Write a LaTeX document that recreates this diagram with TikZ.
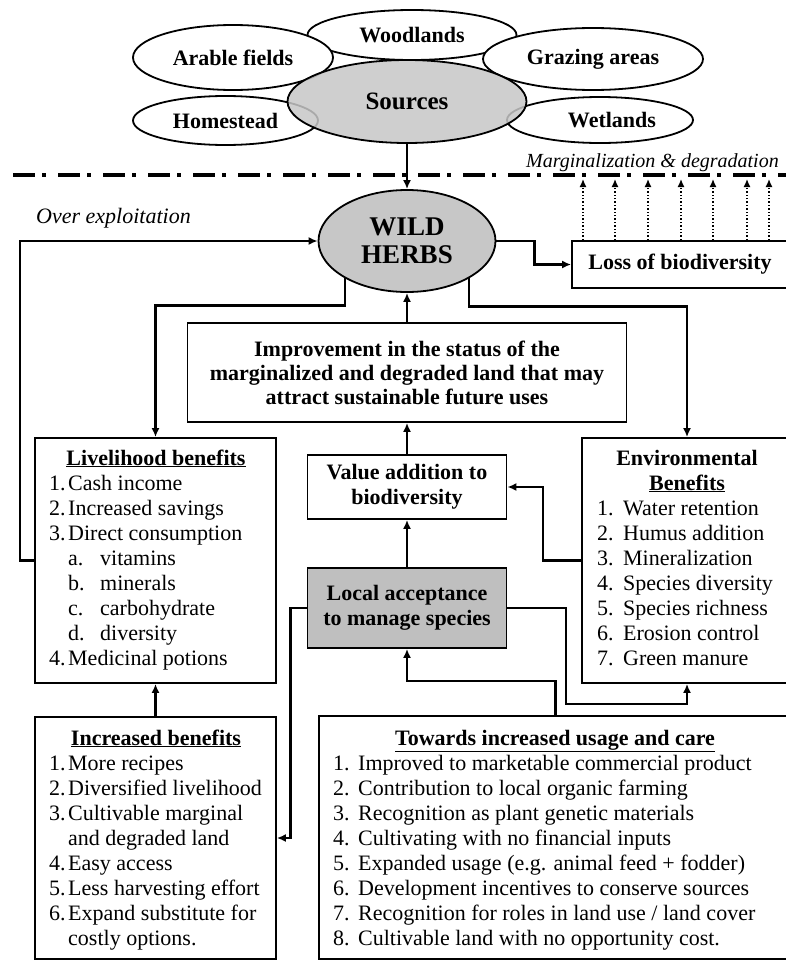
\documentclass[tikz,border=0pt]{standalone}
\usepackage{fontspec}
\setmainfont{Liberation Serif}
\usetikzlibrary{arrows.meta,shapes.geometric,calc}
\newcommand\nbx[1]{\makebox[19pt][l]{#1}}
\newcommand\nbt[1]{\makebox[25pt][l]{#1}}
\newcommand\nbe[1]{\makebox[26pt][l]{#1}}
\newcommand\subit[1]{\hspace*{19pt}\makebox[32pt][l]{#1}}
\begin{document}
\begin{tikzpicture}[x=1pt,y=-1pt,
  every node/.style={inner sep=0pt},
  txt/.style={font=\fontsize{22}{25}\selectfont},
  btxt/.style={font=\fontsize{22}{25}\selectfont\bfseries},
  srcell/.style={ellipse, draw, line width=1.8, fill=white, font=\fontsize{22}{25}\selectfont\bfseries},
  box/.style={draw, line width=1.8, fill=white},
  conn/.style={line width=2.4, -{Latex[length=9pt,width=8pt]}},
  dotarr/.style={line width=1.4, dotted, -{Latex[length=8pt,width=7pt]}}]
\useasboundingbox (0,0) rectangle (786,961);
\clip (0,0) rectangle (786,961);
\fill[white] (0,0) rectangle (786,961);

% source ellipses
\node[srcell, minimum width=209, minimum height=50] (wood) at (412,35) {Woodlands};
\node[srcell, minimum width=200, minimum height=65] (arab) at (233,57.5) {Arable fields};
\node[srcell, minimum width=220, minimum height=62] (graz) at (593,59) {Grazing areas};
\node[srcell, minimum width=185, minimum height=49] (home) at (225.5,120.5) {Homestead};
\node[srcell, minimum width=186, minimum height=46] (wet) at (600,120) {\hspace*{24pt}Wetlands};
\node[srcell, fill=black!22, fill opacity=0.85, text opacity=1, minimum width=239, minimum height=83, font=\fontsize{25}{28}\selectfont\bfseries] (sources) at (407,101.5) {Sources};

% dash-dot divider
\draw[line width=4, dash pattern=on 22pt off 7pt on 4pt off 12pt] (13,175) -- (786,175);
\node[font=\fontsize{20}{22}\selectfont\itshape, anchor=base east] (marg) at (779,167) {Marginalization \& degradation};
\node[font=\fontsize{22}{25}\selectfont\itshape, anchor=base west] (over) at (36,223) {Over exploitation};

% central
\node[ellipse, draw, line width=1.8, fill=black!22, minimum width=177, minimum height=102, font=\fontsize{27}{28}\selectfont\bfseries, align=center] (wh) at (407,241) {WILD\\HERBS};

\node[box, btxt, minimum width=220, minimum height=47] (loss) at (682,264.5) {\hspace*{-2pt}Loss of biodiversity\hspace*{2pt}};
\node[box, btxt, align=center, minimum width=439, minimum height=99, font=\fontsize{22}{24}\selectfont\bfseries] (imp) at (407,372.5) {Improvement in the status of the\\marginalized and degraded land that may\\attract sustainable future uses};
\node[box, btxt, align=center, minimum width=199, minimum height=64] (val) at (407,487) {Value addition to\\biodiversity};
\node[box, btxt, align=center, fill=black!25, minimum width=199, minimum height=80] (loc) at (407,608) {Local acceptance\\to manage species};

\node[box, minimum width=241, minimum height=245] (liv) at (155.5,560.5) {};
\node[box, minimum width=241, minimum height=242] (inc) at (155.5,838) {};
\node[box, minimum width=210, minimum height=245] (env) at (687,560.5) {};
\node[box, minimum width=473, minimum height=243] (tow) at (555.5,837.5) {};

% livelihood text
\node[btxt, anchor=base] (livt) at (156,465) {\underline{Livelihood benefits}};
\foreach \t [count=\i from 0] in {{\nbx{1.}Cash income},{\nbx{2.}Increased savings},{\nbx{3.}Direct consumption},{\subit{a.}vitamins},{\subit{b.}minerals},{\subit{c.}carbohydrate},{\subit{d.}diversity},{\nbx{4.}Medicinal potions}}
  \node[txt, anchor=base west] (livl\i) at (49,490+25*\i) {\t};

% increased benefits text
\node[btxt, anchor=base] (inct) at (156,745) {\underline{Increased benefits}};
\foreach \t [count=\i from 0] in {{\nbx{1.}More recipes},{\nbx{2.}Diversified livelihood},{\nbx{3.}Cultivable marginal},{\hspace*{19pt}and degraded land},{\nbx{4.}Easy access},{\nbx{5.}Less harvesting effort},{\nbx{6.}Expand substitute for},{\hspace*{19pt}costly options.}}
  \node[txt, anchor=base west] (incl\i) at (49,770+25*\i) {\t};

% environmental text
\node[btxt, anchor=base] (envt) at (687,465) {Environmental};
\node[btxt, anchor=base] (envb) at (687,490) {\underline{Benefits}};
\foreach \t [count=\i from 0] in {{\nbe{1.}Water retention},{\nbe{2.}Humus addition},{\nbe{3.}Mineralization},{\nbe{4.}Species diversity},{\nbe{5.}Species richness},{\nbe{6.}Erosion control},{\nbe{7.}Green manure}}
  \node[txt, anchor=base west] (envl\i) at (597,515+25*\i) {\t};

% towards text
\node[btxt, anchor=base] (towt) at (555,745) {\underline{Towards increased usage and care}};
\foreach \t [count=\i from 0] in {{\nbt{1.}Improved to marketable commercial product},{\nbt{2.}Contribution to local organic farming},{\nbt{3.}Recognition as plant genetic materials},{\nbt{4.}Cultivating with no financial inputs},{\nbt{5.}Expanded usage (e.g. animal feed + fodder)},{\nbt{6.}Development incentives to conserve sources},{\nbt{7.}Recognition for roles in land use / land cover},{\nbt{8.}Cultivable land with no opportunity cost.}}
  \node[txt, anchor=base west] (towl\i) at (333,770+25*\i) {\t};

% connectors
\draw[conn] (sources.south) -- (wh.north);
\draw[conn] (imp.north) -- (wh.south);
\draw[conn] (val.north) -- (imp.south);
\draw[conn] (loc.north) -- (val.south);
\draw[conn] (inc.north) -- (liv.south);
\draw[conn] (wh.211) -- ++(0,27) -| (liv.north);
\draw[conn] (wh.329) -- ++(0,28) -| (env.north);
\draw[conn] (liv.west) -- ++(-14,0) |- (wh.west);
\draw[conn] (wh.east) -- ++(38,0) |- (loss.west);
\draw[conn] (env.west) -- ++(-38,0) |- (val.east);
\draw[conn] (loc.west) -- ++(-16,0) |- (inc.east);
\draw[conn] (loc.east) -| ($(env.south)+(-121,20)$) -| (env.south);
\draw[conn] (tow.north) -- ++(0,-34) -| (loc.south);

\coordinate (dd) at (0,179);
\foreach \x in {583,615,648,681,713,747,769}
  \draw[dotarr] (\x,0 |- loss.north) -- (\x,0 |- dd);
\end{tikzpicture}
\end{document}
